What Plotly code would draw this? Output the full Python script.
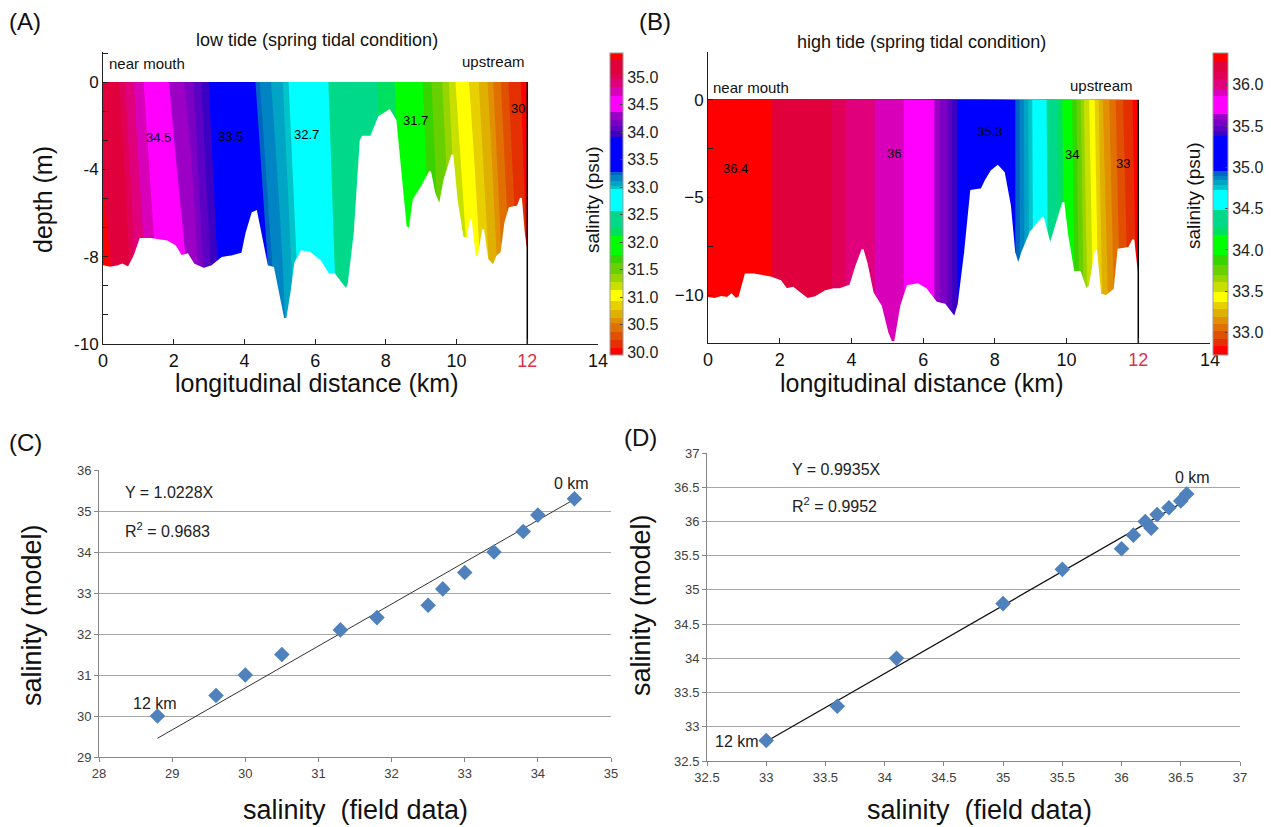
import plotly.graph_objects as go

W, H = 1271, 827


def PX(x):
    return x / W


def PY(y):
    return 1 - y / H


# ---------------- Panels A / B : longitudinal salinity sections ----------------
station_km = [0.0, 0.5, 1.0, 1.5, 2.0, 2.5, 3.0, 3.5, 4.0, 4.5, 5.0, 5.5, 6.0,
              6.5, 7.0, 7.5, 8.0, 8.5, 9.0, 9.5, 10.0, 10.5, 11.0, 11.5, 12.0]

# low tide: salinity at the surface and at the deepest level of the section
a_sal_surface = [35.25, 35.05, 34.75, 34.50, 34.33, 34.15, 33.92, 33.70, 33.40, 33.20, 33.05, 32.90, 32.65,
                 32.55, 32.45, 32.35, 32.20, 32.05, 31.80, 31.50, 31.10, 30.85, 30.55, 30.20, 30.00]
a_sal_deep = [35.45, 35.30, 35.00, 34.75, 34.55, 34.40, 34.10, 33.85, 33.60, 33.40, 33.20, 33.00, 32.85,
              32.60, 32.50, 32.40, 32.30, 32.15, 31.95, 31.70, 31.40, 31.10, 30.80, 30.45, 30.10]
a_level_depth = [-10.0, 0.0]

# high tide
b_sal_surface = [36.38, 36.37, 36.35, 36.32, 36.26, 36.25, 36.22, 36.16, 36.04, 35.97, 35.92, 35.86, 35.78,
                 35.58, 35.36, 35.30, 35.18, 35.00, 34.75, 34.45, 34.10, 33.60, 33.20, 32.95, 32.78]
b_sal_deep = [36.38, 36.37, 36.35, 36.32, 36.26, 36.25, 36.22, 36.16, 36.04, 35.97, 35.92, 35.86, 35.78,
              35.58, 35.36, 35.30, 35.18, 35.00, 34.77, 34.48, 34.16, 33.70, 33.30, 33.02, 32.82]
b_level_depth = [-12.45, 0.0]

# river-bed profiles
a_bed_km = [0.0, 0.2, 0.43, 0.55, 0.72, 0.89, 1.06, 1.35, 1.81, 2.04, 2.21, 2.39, 2.56, 2.85, 3.08,
            3.37, 3.66, 3.94, 4.06, 4.23, 4.33, 4.46, 4.64, 4.81, 4.98, 5.1, 5.21, 5.33, 5.44, 5.62,
            5.85, 6.14, 6.37, 6.54, 6.88, 6.95, 7.12, 7.29, 7.35, 7.58, 7.81, 7.98, 8.1, 8.27, 8.44,
            8.56, 8.67, 8.79, 9.02, 9.25, 9.37, 9.52, 9.66, 9.88, 10.0, 10.17, 10.32, 10.4, 10.52, 10.63,
            10.75, 10.87, 11.04, 11.15, 11.27, 11.38, 11.5, 11.73, 11.82, 11.9, 11.96, 12.0]
a_bed_depth = [-7.03, -7.09, -7.03, -6.97, -7.09, -6.65, -5.99, -5.99, -6.08, -6.27, -6.65, -6.58, -6.96, -7.13, -7.03,
               -6.71, -6.65, -6.54, -5.76, -5.0, -4.94, -5.76, -7.03, -7.09, -8.16, -9.05, -9.05, -8.04, -6.9, -6.46,
               -6.52, -6.84, -7.34, -7.34, -7.94, -7.7, -5.76, -2.22, -2.09, -2.09, -1.33, -1.2, -1.08, -1.46, -3.99,
               -5.51, -5.63, -4.49, -3.99, -3.42, -4.24, -4.75, -3.73, -2.78, -4.49, -5.95, -5.95, -5.25, -6.71, -6.65,
               -5.63, -6.77, -7.03, -6.65, -6.52, -5.38, -4.81, -4.75, -4.43, -5.76, -6.33, -6.33]
b_bed_km = [0.0, 0.19, 0.37, 0.54, 0.65, 0.77, 0.88, 1.05, 1.28, 1.74, 2.02, 2.19, 2.37, 2.54, 2.77,
            3.0, 3.28, 3.51, 3.68, 3.97, 4.14, 4.31, 4.42, 4.59, 4.82, 5.0, 5.11, 5.22, 5.39, 5.57,
            5.85, 6.08, 6.37, 6.6, 6.88, 6.99, 7.17, 7.34, 7.63, 7.74, 7.91, 8.08, 8.25, 8.42, 8.54,
            8.65, 8.77, 9.0, 9.34, 9.54, 9.68, 9.91, 10.02, 10.19, 10.37, 10.54, 10.65, 10.82, 10.94, 11.11,
            11.34, 11.45, 11.74, 11.86, 11.94, 12.0]
b_bed_depth = [-10.14, -10.2, -10.1, -10.15, -9.97, -10.2, -10.1, -8.94, -8.94, -9.1, -9.28, -9.7, -9.62, -9.87, -10.2,
               -10.1, -9.8, -9.7, -9.7, -9.5, -8.5, -7.67, -8.35, -9.88, -10.56, -11.9, -12.4, -12.4, -10.56, -9.54,
               -9.45, -9.7, -10.39, -10.48, -11.16, -10.48, -7.8, -4.66, -4.58, -4.15, -3.64, -3.39, -3.73, -5.42, -7.8,
               -8.47, -7.8, -6.78, -6.02, -7.46, -6.61, -5.25, -6.95, -8.81, -8.81, -9.71, -9.54, -7.67, -9.97, -10.05,
               -9.71, -7.67, -7.58, -7.16, -8.5, -9.28]

# in-section contour labels
a_lab_text = ["34.5", "33.5", "32.7", "31.7", "30"]
a_lab_km = [1.56, 3.6, 5.76, 8.85, 11.75]
a_lab_depth = [-2.11, -2.06, -1.99, -1.46, -1.01]
b_lab_text = ["36.4", "36", "35.3", "34", "33"]
b_lab_km = [0.77, 5.2, 7.86, 10.14, 11.57]
b_lab_depth = [-3.54, -2.76, -1.62, -2.81, -3.24]

# colour bar ranges and ticks
a_cb_min, a_cb_max = 29.95, 35.45
b_cb_min, b_cb_max = 32.73, 36.39
a_cb_ticks = [30.0, 30.5, 31.0, 31.5, 32.0, 32.5, 33.0, 33.5, 34.0, 34.5, 35.0]
b_cb_ticks = [33.0, 33.5, 34.0, 34.5, 35.0, 35.5, 36.0]

# distance / depth ticks
dist_ticks = [0, 2, 4, 6, 8, 10, 12, 14]
a_depth_ticktext = ["-10", "-8", "-4", "0"]
b_depth_ticks = [-10, -5, 0]

# ---------------- Panels C / D : model vs field ----------------
c_field = [28.8, 29.6, 30.0, 30.5, 31.3, 31.8, 32.5, 32.7, 33.0, 33.4, 33.8, 34.0, 34.5]
c_model = [30.0, 30.5, 31.0, 31.5, 32.1, 32.4, 32.7, 33.1, 33.5, 34.0, 34.5, 34.9, 35.3]
c_slope, c_r2 = 1.0228, 0.9683
d_field = [33.0, 33.6, 34.1, 35.0, 35.5, 36.0, 36.1, 36.2, 36.25, 36.3, 36.4, 36.5, 36.55]
d_model = [32.8, 33.3, 34.0, 34.8, 35.3, 35.6, 35.8, 36.0, 35.9, 36.1, 36.2, 36.3, 36.4]
d_slope, d_r2 = 0.9935, 0.9952

# ---------------- styles ----------------
PALETTE = [  # (upper fraction of colour bar, colour)
    (0.025, '#FF0000'), (0.050, '#E43000'), (0.075, '#E05000'), (0.100, '#E07000'),
    (0.125, '#E09000'), (0.150, '#E0B000'), (0.175, '#E8D000'), (0.210, '#FFFF00'),
    (0.240, '#C8E000'), (0.270, '#98D400'), (0.300, '#68D000'), (0.330, '#38D400'),
    (0.395, '#00FF00'), (0.425, '#00E060'), (0.480, '#00D88A'), (0.547, '#00FFFF'),
    (0.562, '#00C4C8'), (0.577, '#00A4C4'), (0.592, '#0084C4'), (0.607, '#0064C4'),
    (0.723, '#0000FF'), (0.742, '#3C00C4'), (0.761, '#5C00C4'), (0.780, '#7C00C4'),
    (0.800, '#9C00C4'), (0.855, '#FF00FF'), (0.885, '#D800B8'), (0.910, '#E0007C'),
    (0.935, '#E00058'), (0.975, '#E0003C'), (1.000, '#FF0000'),
]
FONT_AB = "Liberation Sans, Arial, sans-serif"
FONT_NARROW = "Liberation Sans Narrow, Liberation Sans, Arial, sans-serif"
MARK = '#4F81BD'
GRID = '#A6A6A6'
AXC = '#868686'


def banded_scale(n):
    out = []
    for k in range(n + 1):
        s = k / n
        for upper, col in PALETTE:
            if s <= upper + 1e-9:
                out.append([s, col])
                break
    return out


def section(sal_deep, sal_surf, depths, vmin, vmax, step, xa, ya, cb):
    n = round((vmax - vmin) / step)
    return go.Contour(
        x=station_km, y=depths, z=[sal_deep, sal_surf], xaxis=xa, yaxis=ya,
        autocontour=False,
        contours=dict(start=vmin + step / 2, end=vmax - step / 2, size=step,
                      coloring='fill', showlines=False),
        line=dict(width=0), colorscale=banded_scale(n), colorbar=cb,
        hoverinfo='skip')


def colorbar(xpx, ticks, thick):
    return dict(x=PX(xpx), xanchor='left', xpad=0, ypad=0,
                y=PY(52.7), yanchor='top', len=302, lenmode='pixels',
                thickness=thick, thicknessmode='pixels',
                outlinecolor='#999', outlinewidth=1,
                tickvals=ticks, ticktext=['%.1f' % t for t in ticks],
                ticks='inside', ticklen=3, tickcolor='#444',
                tickfont=dict(family=FONT_AB, size=16, color='#222'))


def bed_mask(bed_km, bed_depth, depths, xa, ya):
    return go.Scatter(x=bed_km + [max(bed_km), min(bed_km)],
                      y=bed_depth + [min(depths)] * 2,
                      fill='toself', fillcolor='white', mode='lines',
                      line=dict(color='white', width=2), hoverinfo='skip',
                      showlegend=False, xaxis=xa, yaxis=ya)


def end_line(depths, xa, ya):
    return go.Scatter(x=[max(station_km)] * 2, y=depths, mode='lines',
                      line=dict(color='black', width=1.5), hoverinfo='skip',
                      showlegend=False, xaxis=xa, yaxis=ya)


fig = go.Figure()

# Panel A
fig.add_trace(section(a_sal_deep, a_sal_surface, a_level_depth, a_cb_min, a_cb_max, 0.05,
                      'x', 'y', colorbar(610, a_cb_ticks, 13)))
fig.add_trace(bed_mask(a_bed_km, a_bed_depth, a_level_depth, 'x', 'y'))
fig.add_trace(end_line(a_level_depth, 'x', 'y'))

# Panel B
fig.add_trace(section(b_sal_deep, b_sal_surface, b_level_depth, b_cb_min, b_cb_max, 0.03,
                      'x2', 'y2', colorbar(1213, b_cb_ticks, 15)))
fig.add_trace(bed_mask(b_bed_km, b_bed_depth, b_level_depth, 'x2', 'y2'))
fig.add_trace(end_line(b_level_depth, 'x2', 'y2'))

# Panel C
c_fit_x = [min(c_field), max(c_field)]
fig.add_trace(go.Scatter(x=c_fit_x, y=[c_slope * v for v in c_fit_x], mode='lines',
                         line=dict(color='#333333', width=1), showlegend=False,
                         xaxis='x3', yaxis='y3'))
fig.add_trace(go.Scatter(x=c_field, y=c_model, mode='markers',
                         marker=dict(symbol='diamond', size=12, color=MARK),
                         showlegend=False, xaxis='x3', yaxis='y3'))

# Panel D
d_fit_x = [min(d_field), max(d_field)]
fig.add_trace(go.Scatter(x=d_fit_x, y=[d_slope * v for v in d_fit_x], mode='lines',
                         line=dict(color='#111111', width=1.3), showlegend=False,
                         xaxis='x4', yaxis='y4'))
fig.add_trace(go.Scatter(x=d_field, y=d_model, mode='markers',
                         marker=dict(symbol='diamond', size=12, color=MARK),
                         showlegend=False, xaxis='x4', yaxis='y4'))

dist_ticktext = [('<span style="color:#E0304A">%d</span>' % t) if t == 12 else str(t)
                 for t in dist_ticks]

sec_x = dict(range=[0, 14], tickvals=dist_ticks, ticktext=dist_ticktext,
             ticks='inside', ticklen=5, tickcolor='#222', showline=True,
             linecolor='#222', linewidth=1, showgrid=False, zeroline=False,
             tickfont=dict(family=FONT_AB, size=18, color='#111'))
sec_y = dict(ticks='inside', ticklen=5, tickcolor='#222', showline=True,
             linecolor='#222', linewidth=1, showgrid=False, zeroline=False,
             tickfont=dict(family=FONT_AB, size=17, color='#111'))
xl_y = dict(showgrid=False, zeroline=False, showline=True, linecolor=AXC,
            ticks='outside', ticklen=4, tickcolor=AXC,
            tickfont=dict(family=FONT_NARROW, size=13, color='#404040'))

# the depth labels of panel A sit on every third of nine equal tick steps
a_step = (max(a_level_depth) - min(a_level_depth)) / 9
a_depth_ticks = [min(a_level_depth) + 3 * k * a_step for k in range(4)]

fig.update_layout(
    width=W, height=H, margin=dict(l=0, r=0, t=0, b=0, autoexpand=False),
    paper_bgcolor='white', plot_bgcolor='white', showlegend=False,
    xaxis=dict(sec_x, domain=[PX(103), PX(598)], anchor='y'),
    yaxis=dict(sec_y, domain=[PY(344), PY(52)], anchor='x', range=[-10, 1.15],
               tickvals=a_depth_ticks, ticktext=a_depth_ticktext,
               minor=dict(tick0=0, dtick=a_step, ticks='inside', ticklen=5, tickcolor='#222')),
    xaxis2=dict(sec_x, domain=[PX(708), PX(1210)], anchor='y2'),
    yaxis2=dict(sec_y, domain=[PY(343), PY(52)], anchor='x2', range=[-12.45, 2.45],
                tickvals=b_depth_ticks,
                minor=dict(tick0=0, dtick=2.5, ticks='inside', ticklen=5, tickcolor='#222')),
    xaxis3=dict(xl_y, domain=[PX(99), PX(611)], anchor='y3', range=[28, 35], dtick=1),
    yaxis3=dict(xl_y, domain=[PY(757), PY(470)], anchor='x3', range=[29, 36], dtick=1,
                showgrid=True, gridcolor=GRID, gridwidth=1),
    xaxis4=dict(xl_y, domain=[PX(707), PX(1240)], anchor='y4', range=[32.5, 37], dtick=0.5),
    yaxis4=dict(xl_y, domain=[PY(761), PY(453)], anchor='x4', range=[32.5, 37], dtick=0.5,
                showgrid=True, gridcolor=GRID, gridwidth=1),
)

ann = []


def txt(text, x, y, size, family=FONT_AB, angle=0, xanchor='center', color='#111', xref='paper', yref='paper'):
    ann.append(dict(text=text, x=x, y=y, xref=xref, yref=yref, showarrow=False,
                    xanchor=xanchor, yanchor='middle', textangle=angle,
                    font=dict(family=family, size=size, color=color)))


# panel letters
txt("(A)", PX(25), PY(22), 24)
txt("(B)", PX(655), PY(22), 24)
txt("(C)", PX(25), PY(442), 24)
txt("(D)", PX(640), PY(437), 24)

# A / B texts
txt("low tide (spring tidal condition)", PX(317), PY(40), 18)
txt("high tide (spring tidal condition)", PX(921), PY(42), 18)
txt("near mouth", PX(107), PY(63), 15, xanchor='left')
txt("upstream", PX(527), PY(62), 15, xanchor='right')
txt("near mouth", PX(711), PY(87), 15, xanchor='left')
txt("upstream", PX(1135), PY(85), 15, xanchor='right')
txt("longitudinal distance (km)", PX(316), PY(383), 25)
txt("longitudinal distance (km)", PX(921), PY(383), 25)
txt("depth (m)", PX(43), PY(200), 25, angle=-90)
txt("salinity (psu)", PX(592), PY(200), 19, angle=-90)
txt("salinity (psu)", PX(1193), PY(196), 19, angle=-90)
for t, xk, yd in zip(a_lab_text, a_lab_km, a_lab_depth):
    txt(t, xk, yd, 13, family=FONT_NARROW, xref='x', yref='y', color='#000')
for t, xk, yd in zip(b_lab_text, b_lab_km, b_lab_depth):
    txt(t, xk, yd, 13, family=FONT_NARROW, xref='x2', yref='y2', color='#000')

# C / D texts
txt("salinity (model)", PX(32), PY(615), 27, angle=-90)
txt("salinity  (field data)", PX(355), PY(810), 27)
txt("salinity (model)", PX(641), PY(605), 27, angle=-90)
txt("salinity  (field data)", PX(979), PY(810), 27)
txt("Y = %.4fX" % c_slope, PX(123), PY(492), 16, family=FONT_NARROW, xanchor='left', color='#222')
txt("R<sup>2</sup> = %.4f" % c_r2, PX(123), PY(530), 16, family=FONT_NARROW, xanchor='left', color='#222')
txt("Y = %.4fX" % d_slope, PX(790), PY(469), 16, family=FONT_NARROW, xanchor='left', color='#222')
txt("R<sup>2</sup> = %.4f" % d_r2, PX(790), PY(505), 16, family=FONT_NARROW, xanchor='left', color='#222')
txt("0 km", PX(571), PY(483), 16, family=FONT_NARROW, color='#222')
txt("12 km", PX(155), PY(703), 16, family=FONT_NARROW, color='#222')
txt("0 km", PX(1192), PY(477), 16, family=FONT_NARROW, color='#222')
txt("12 km", PX(737), PY(741), 16, family=FONT_NARROW, color='#222')

fig.update_layout(annotations=ann)

fig.write_html("out.html", config={'displayModeBar': False},
               post_script="document.body.style.margin='0';document.body.style.overflow='hidden';")
